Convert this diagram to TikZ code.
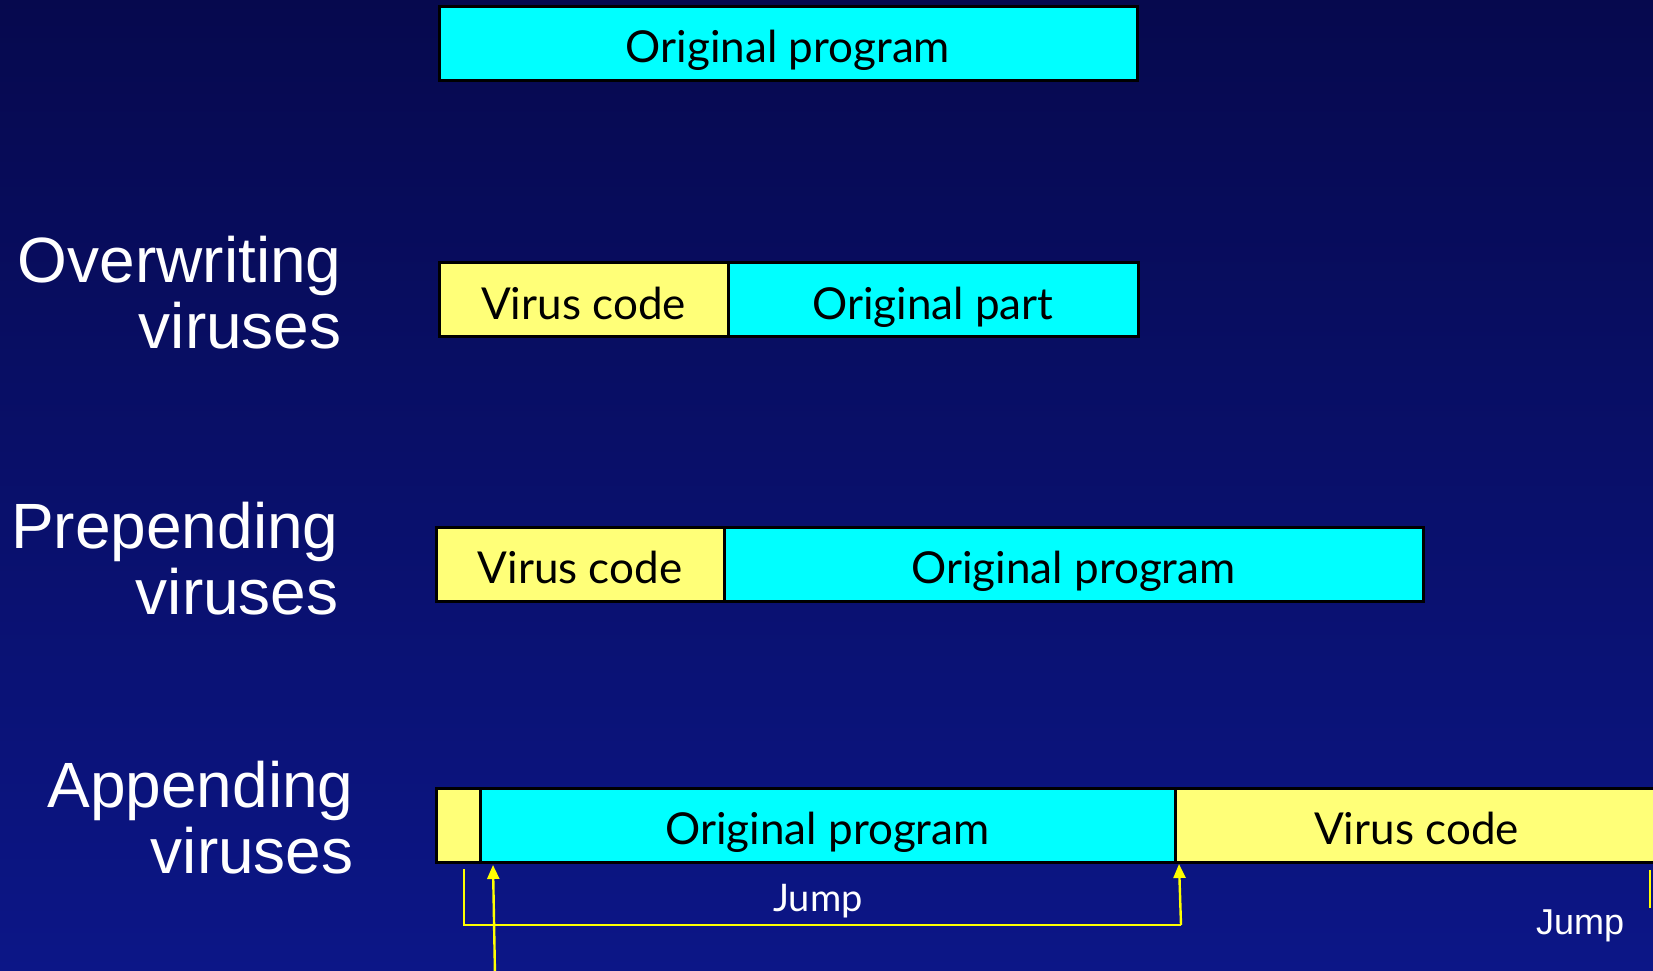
\documentclass[tikz,border=0pt]{standalone}
\usepackage{fontspec}
\setmainfont{Lato}
\newfontfamily\arialf{Liberation Sans}
\usetikzlibrary{arrows.meta,calc}
\definecolor{bgtop}{RGB}{6,9,78}
\definecolor{bgbot}{RGB}{12,22,135}
\definecolor{boxcyan}{RGB}{0,255,255}
\definecolor{boxyel}{RGB}{255,255,120}
\definecolor{jumpyel}{RGB}{255,255,0}
\tikzset{
  segbox/.style={draw=black, line width=1.5pt, minimum height=37pt, inner sep=0pt, outer sep=0pt,
    text height=19.5pt, text depth=0pt, font=\fontsize{22}{24}\selectfont, text=black},
  cyanbox/.style={segbox, fill=boxcyan},
  yelbox/.style={segbox, fill=boxyel},
  sidelabel/.style={anchor=north east, align=right, text=white, inner sep=0pt,
    font=\arialf\fontsize{32}{33}\selectfont},
  jl/.style={draw=jumpyel, line width=1.2pt},
  jarrow/.style={jl, -{Triangle[width=6pt,length=7pt]}},
}
\begin{document}
\begin{tikzpicture}[x=0.5pt,y=-0.5pt]
\useasboundingbox (0,0) rectangle (1653,970);
\clip (0,0) rectangle (1653,970);
\shade[top color=bgtop, bottom color=bgbot] (0,0) rectangle (1653,970);

% top
\node[cyanbox, minimum width=349pt] (orig) at (788,43) {Original program};

% overwriting
\node[sidelabel] (lov) at (342,236) {Overwriting\\viruses};
\node[yelbox, minimum width=144.5pt] (ovir) at (583.5,299.5) {Virus code};
\node[cyanbox, minimum width=205pt] (opart) at (933,299.5) {Original part};

% prepending
\node[sidelabel] (lpre) at (339,502) {Prepending\\viruses};
\node[yelbox, minimum width=144pt] (pvir) at (580,564) {Virus code};
\node[cyanbox, minimum width=349.5pt] (porig) at (1073.5,564) {Original program};

% appending
\node[sidelabel] (lapp) at (354,761) {Appending\\viruses};
\node[yelbox, minimum width=22pt] (ajmp) at (458,825) {};
\node[cyanbox, minimum width=347.5pt] (aorig) at (827.5,825) {Original program};
\node[yelbox, minimum width=241.5pt] (avir) at (1416.5,825) {Virus code};

% jumps
\coordinate (jA) at (464,869);
\coordinate (jB) at (1181,925);
\coordinate (jC) at (1179,864);
\draw[jl] (jA) |- (jB);
\draw[jarrow] (jB) -- (jC);
\coordinate (jD) at (495,975);
\coordinate (jE) at (493,865);
\draw[jarrow] (jD) -- (jE);
\coordinate (jF) at (1650,870);
\coordinate (jG) at (1650,908);
\draw[jl] (jF) -- (jG);

\node[text=white, font=\fontsize{19}{21}\selectfont, inner sep=0pt] (jump1) at (818,901) {Jump};
\node[text=white, font=\arialf\fontsize{18}{20}\selectfont, inner sep=0pt] (jump2) at (1580,926) {Jump};
\end{tikzpicture}
\end{document}
